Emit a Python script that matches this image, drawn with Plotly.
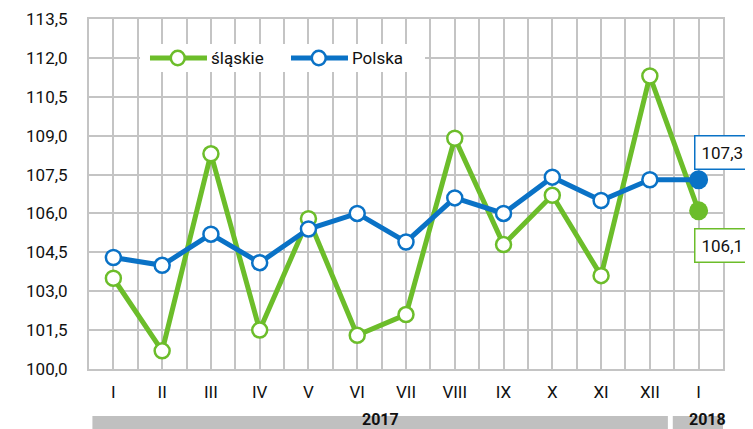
import plotly.graph_objects as go

# Monthly price index, same month of previous year = 100
months = ["I", "II", "III", "IV", "V", "VI", "VII", "VIII", "IX", "X", "XI", "XII", "I"]
years = ["2017", "2018"]
slaskie = [103.5, 100.7, 108.3, 101.5, 105.8, 101.3, 102.1, 108.9, 104.8, 106.7, 103.6, 111.3, 106.1]
polska = [104.3, 104.0, 105.2, 104.1, 105.4, 106.0, 104.9, 106.6, 106.0, 107.4, 106.5, 107.3, 107.3]
series_names = ["śląskie", "Polska"]

GREEN = "#6cbd2a"
BLUE = "#0a72c6"
GRID = "#c4c4c4"
FONT = "Roboto"

x = list(range(len(months)))

fig = go.Figure()
for name, vals, col in [(series_names[0], slaskie, GREEN), (series_names[1], polska, BLUE)]:
    fig.add_trace(go.Scatter(
        x=x, y=vals, name=name, mode="lines",
        line=dict(color=col, width=5), showlegend=False,
    ))
for name, vals, col in [(series_names[0], slaskie, GREEN), (series_names[1], polska, BLUE)]:
    fig.add_trace(go.Scatter(
        x=x[:-1], y=vals[:-1], name=name, mode="markers", showlegend=False,
        marker=dict(size=15, color="white", line=dict(color=col, width=2.5)),
    ))
    # January 2018 drawn filled
    fig.add_trace(go.Scatter(
        x=x[-1:], y=vals[-1:], name=name, mode="markers", showlegend=False,
        marker=dict(size=19, color=col),
    ))

# value boxes for the last point
for vals, col, anchor, shift in [(polska, BLUE, "bottom", 10), (slaskie, GREEN, "top", -17)]:
    fig.add_annotation(x=x[-1], y=vals[-1], xref="x", yref="y", text=f"{vals[-1]:.1f}".replace(".", ","),
                       showarrow=False, xanchor="left", yanchor=anchor, xshift=-5, yshift=shift,
                       bgcolor="white", bordercolor=col, borderwidth=1.5, borderpad=6,
                       width=62, align="left", font=dict(size=17, color="#111"))

# custom legend (white box, long line samples with an open circle)
fig.add_shape(type="rect", xref="paper", yref="paper", x0=0.0804, x1=0.530, y0=0.8486, y1=0.9286,
              fillcolor="white", line=dict(width=0), layer="above")
for i, (name, col) in enumerate(zip(series_names, [GREEN, BLUE])):
    dx = i * 0.2224
    fig.add_shape(type="line", xref="paper", yref="paper", x0=0.0962 + dx, x1=0.1861 + dx,
                  y0=0.8886, y1=0.8886, line=dict(color=col, width=5), layer="above")
    fig.add_shape(type="circle", xref="paper", yref="paper", x0=0.1290 + dx, x1=0.1510 + dx,
                  y0=0.8680, y1=0.9092, fillcolor="white", line=dict(color=col, width=2.5), layer="above")
    fig.add_annotation(x=0.1895 + dx, y=0.8886, xref="paper", yref="paper", xanchor="left", yanchor="middle",
                       text=name, showarrow=False, font=dict(size=17, color="#111"))

# year bands below the axis
fig.add_shape(type="rect", xref="x", yref="paper", x0=-0.43, x1=11.37, y0=-0.25, y1=-0.134,
              fillcolor="#c0c0c0", line=dict(width=0), layer="below")
fig.add_shape(type="rect", xref="x", yref="paper", x0=11.47, x1=12.9, y0=-0.25, y1=-0.134,
              fillcolor="#c0c0c0", line=dict(width=0), layer="below")
fig.add_annotation(x=5.47, y=-0.178, xref="x", yref="paper", text=f"<b>{years[0]}</b>",
                   showarrow=False, font=dict(size=16, color="#111"))
fig.add_annotation(x=12.18, y=-0.178, xref="x", yref="paper", text=f"<b>{years[1]}</b>",
                   showarrow=False, font=dict(size=16, color="#111"))

# header text, cut at top of the picture
fig.add_annotation(x=0.005, y=1.07, xref="paper", yref="paper", xanchor="left", yanchor="middle",
                   text="<i>Analogiczny miesiąc poprzedniego roku = 100</i>", showarrow=False,
                   font=dict(size=17, color="#222"))

fig.update_layout(
    width=745, height=421,
    margin=dict(l=81, r=30, t=11, b=60),
    paper_bgcolor="white", plot_bgcolor="white",
    separators=", ",
    font=dict(family=FONT, size=17, color="#111"),
    showlegend=False,
    xaxis=dict(range=[-0.5, 12.5], tickmode="array", tickvals=x, ticktext=months,
               showgrid=True, gridcolor=GRID, gridwidth=2, zeroline=False,
               showline=True, linecolor=GRID, linewidth=2, mirror=True,
               ticks="", ticklabelstandoff=7, automargin=False,
               minor=dict(tickmode="linear", tick0=-0.5, dtick=1, showgrid=True,
                          gridcolor=GRID, gridwidth=2)),
    yaxis=dict(range=[100, 113.5], tickmode="linear", tick0=100, dtick=1.5, tickformat=".1f",
               showgrid=True, gridcolor=GRID, gridwidth=2, zeroline=False,
               showline=True, linecolor=GRID, linewidth=2, mirror=True,
               ticks="", ticklabelstandoff=16, automargin=False),
)

fig.write_html("out.html")
